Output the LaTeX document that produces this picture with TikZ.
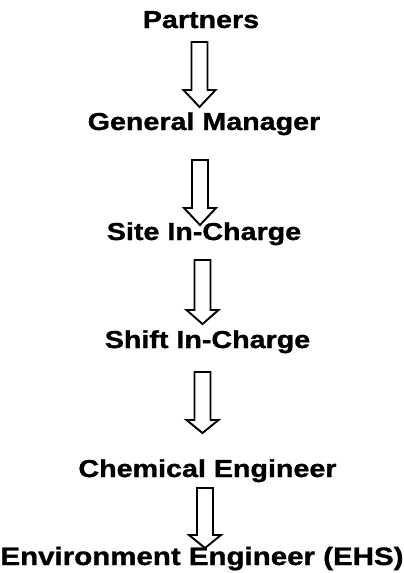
\documentclass[tikz,border=0pt]{standalone}
\usepackage{fontspec}
\newfontfamily\labfont[FakeStretch=1.17,FakeBold=1.2]{Liberation Sans}
\begin{document}
\begin{tikzpicture}[x=1pt,y=-1pt,
  lab/.style={font=\labfont\bfseries\fontsize{24.5}{29}\selectfont, inner sep=0pt, anchor=base},
  blk/.style={draw=black, line width=1.9pt, fill=white, line join=miter}]
\useasboundingbox (0,0) rectangle (404,573);
\newcommand{\blkarrow}[4]{%
  \draw[blk] (#1-8,#2) -- (#1+8,#2) -- (#1+8,#3) -- (#1+16,#3) -- (#1,#4) -- (#1-16,#3) -- (#1-8,#3) -- cycle;}
\node[lab] (partners) at (201,28) {Partners};
\blkarrow{199.5}{42}{90}{107}
\node[lab] (gm) at (204,130) {General Manager};
\blkarrow{200}{160}{208}{225}
\node[lab] (site) at (204,240) {Site In-Charge};
\blkarrow{202.5}{260}{310}{324}
\node[lab] (shift) at (207.5,348) {Shift In-Charge};
\blkarrow{202.5}{372}{420}{433}
\node[lab] (chem) at (207.5,477) {Chemical Engineer};
\blkarrow{205}{488}{535}{548}
\node[lab, font=\labfont\bfseries\fontsize{25.2}{29}\selectfont] (env) at (202,565) {Environment Engineer (EHS)};
\end{tikzpicture}
\end{document}
